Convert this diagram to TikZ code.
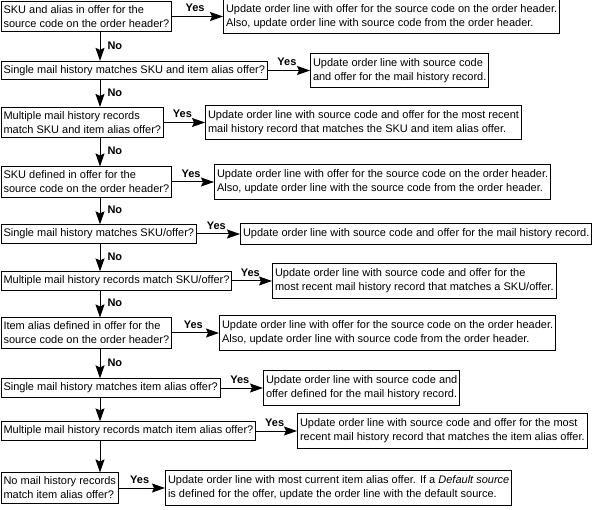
\documentclass[tikz,border=0pt]{standalone}
\usepackage{fontspec}
\setmainfont{Liberation Sans}
\usetikzlibrary{arrows.meta,calc}
\tikzset{
  ask/.style    = {draw, line width=1pt, inner xsep=2.5pt, inner ysep=4pt,
                   align=left, anchor=west, font=\fontsize{11}{14}\selectfont},
  act/.style    = {ask, inner ysep=5pt},
  flow/.style   = {line width=1pt, -{Stealth[length=13pt,width=9pt,inset=2pt]}},
  yeslbl/.style = {above, pos=0.45, inner sep=1pt, yshift=3pt,
                   font=\fontsize{11}{12}\selectfont\bfseries},
  nolbl/.style  = {right, pos=0.5, inner sep=1pt, xshift=6pt, yshift=1pt,
                   font=\fontsize{11}{12}\selectfont\bfseries},
}
\begin{document}
\begin{tikzpicture}[x=1pt, y=-1pt]
  \useasboundingbox (0,0) rectangle (594,510);
  \coordinate (spine) at (100,0);
  % questions
  \node[ask] (q1) at (0.5,16.5) {SKU and alias in offer for the\\source code on the order header?};
  \node[ask] (q2) at (0.5,70.5) {Single mail history matches SKU and item alias offer?};
  \node[ask] (q3) at (0.5,122.5) {Multiple mail history records\\match SKU and item alias offer?};
  \node[ask] (q4) at (0.5,182) {SKU defined in offer for the\\source code on the order header?};
  \node[ask] (q5) at (0.5,234) {Single mail history matches SKU/offer?};
  \node[ask] (q6) at (0.5,281) {Multiple mail history records match SKU/offer?};
  \node[ask] (q7) at (0.5,333) {Item alias defined in offer for the\\source code on the order header?};
  \node[ask] (q8) at (0.5,388) {Single mail history matches item alias offer?};
  \node[ask] (q9) at (0.5,431) {Multiple mail history records match item alias offer?};
  \node[ask] (q10) at (0.5,488) {No mail history records\\match item alias offer?};
  % updates
  \node[act] (r1) at (223,16.5) {Update order line with offer for the source code on the order header.\\Also, update order line with source code from the order header.};
  \node[act] (r2) at (310,70.5) {Update order line with source code\\and offer for the mail history record.};
  \node[act] (r3) at (205,122.5) {Update order line with source code and offer for the most recent\\mail history record that matches the SKU and item alias offer.};
  \node[act] (r4) at (214,182) {Update order line with offer for the source code on the order header.\\Also, update order line with the source code from the order header.};
  \node[act] (r5) at (240,234) {Update order line with source code and offer for the mail history record.};
  \node[act] (r6) at (272,281) {Update order line with source code and offer for the\\most recent mail history record that matches a SKU/offer.};
  \node[act] (r7) at (219,333) {Update order line with offer for the source code on the order header.\\Also, update order line with source code from the order header.};
  \node[act] (r8) at (263,388) {Update order line with source code and\\offer defined for the mail history record.};
  \node[act] (r9) at (297,431) {Update order line with source code and offer for the most\\recent mail history record that matches the item alias offer.};
  \node[act] (r10) at (165,488) {Update order line with most current item alias offer. If a \textit{Default source}\\is defined for the offer, update the order line with the default source.};
  % yes branches
  \draw[flow] (q1.east) -- node[yeslbl] {Yes} (r1.west);
  \draw[flow] (q2.east) -- node[yeslbl] {Yes} (r2.west);
  \draw[flow] (q3.east) -- node[yeslbl] {Yes} (r3.west);
  \draw[flow] (q4.east) -- node[yeslbl] {Yes} (r4.west);
  \draw[flow] (q5.east) -- node[yeslbl] {Yes} (r5.west);
  \draw[flow] (q6.east) -- node[yeslbl] {Yes} (r6.west);
  \draw[flow] (q7.east) -- node[yeslbl] {Yes} (r7.west);
  \draw[flow] (q8.east) -- node[yeslbl] {Yes} (r8.west);
  \draw[flow] (q9.east) -- node[yeslbl] {Yes} (r9.west);
  \draw[flow] (q10.east) -- node[yeslbl] {Yes} (r10.west);
  % no branches
  \draw[flow] (q1.south -| spine) -- node[nolbl] {No} (q2.north -| spine);
  \draw[flow] (q2.south -| spine) -- node[nolbl] {No} (q3.north -| spine);
  \draw[flow] (q3.south -| spine) -- node[nolbl] {No} (q4.north -| spine);
  \draw[flow] (q4.south -| spine) -- node[nolbl] {No} (q5.north -| spine);
  \draw[flow] (q5.south -| spine) -- node[nolbl] {No} (q6.north -| spine);
  \draw[flow] (q6.south -| spine) -- node[nolbl] {No} (q7.north -| spine);
  \draw[flow] (q7.south -| spine) -- node[nolbl] {No} (q8.north -| spine);
  \draw[flow] (q8.south -| spine) -- (q9.north -| spine);
  \draw[flow] (q9.south -| spine) -- (q10.north -| spine);
\end{tikzpicture}
\end{document}
